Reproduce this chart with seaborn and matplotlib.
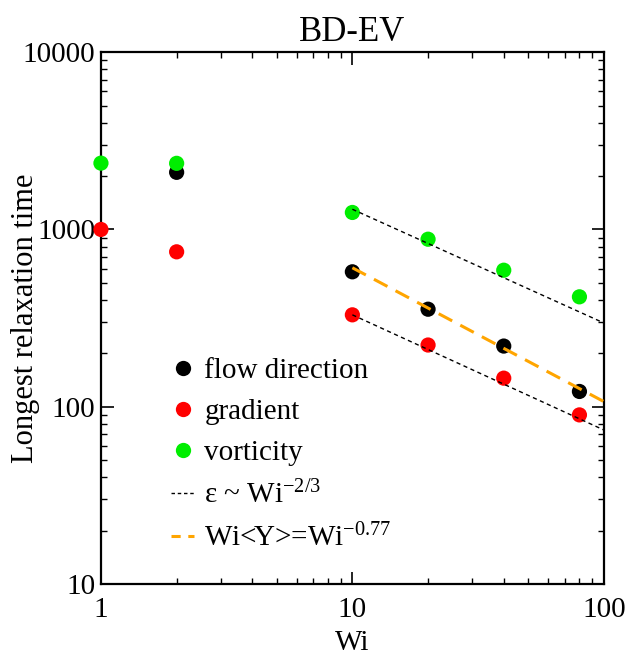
import numpy as np
import pandas as pd
import matplotlib
matplotlib.use("Agg")
import matplotlib.pyplot as plt
from matplotlib.ticker import FixedLocator, FuncFormatter, LogLocator
from matplotlib.lines import Line2D
import seaborn as sns

# ---- data ----
wi = [1, 2, 10, 20, 40, 80]
flow_direction = [np.nan, 2100, 577, 355, 220, 122]
gradient = [1000, 748, 330, 223, 145, 90]
vorticity = [2366, 2360, 1247, 881, 589, 417]

fit_x = [10, 100]
fit_upper = [1300, 297]     # eps ~ Wi^-2/3 (through vorticity)
fit_lower = [330, 74]       # eps ~ Wi^-2/3 (through gradient)
fit_orange = [608, 107]     # Wi<Y> = Wi^-0.77

series_names = ["flow direction", "gradient", "vorticity"]
series_colors = ["#000000", "#ff0000", "#00ee00"]
label_eps = r"ε ~ Wi$^{\mathregular{-2/3}}$"
label_wiy = r"Wi<Y>=Wi$^{\mathregular{-0.77}}$"

sns.set_theme(style="white")
plt.rcParams["font.family"] = ["Liberation Serif", "DejaVu Serif"]
plt.rcParams["mathtext.fontset"] = "custom"
plt.rcParams["mathtext.rm"] = "Liberation Serif"
plt.rcParams["mathtext.it"] = "Liberation Serif:italic"
for k in ["text.color", "axes.labelcolor", "xtick.color", "ytick.color", "axes.edgecolor"]:
    plt.rcParams[k] = "black"

df = pd.DataFrame({
    "Wi": wi * 3,
    "tau": flow_direction + gradient + vorticity,
    "series": [series_names[0]] * len(wi) + [series_names[1]] * len(wi) + [series_names[2]] * len(wi),
}).dropna()

fig = plt.figure(figsize=(6.27, 6.60), dpi=100)
ax = fig.add_axes([0.161, 0.115, 0.963 - 0.161, 0.921 - 0.115])
ax.set_xscale("log")
ax.set_yscale("log")

sns.scatterplot(data=df, x="Wi", y="tau", hue="series", hue_order=series_names,
                palette=series_colors, s=120, linewidth=0, legend=False,
                ax=ax, clip_on=False, zorder=3)

ax.plot(fit_x, fit_upper, color="black", lw=1.0, linestyle=(0, (3, 2.5)), zorder=4)
ax.plot(fit_x, fit_lower, color="black", lw=1.0, linestyle=(0, (3, 2.5)), zorder=4)
ax.plot(fit_x, fit_orange, color="#ffa500", lw=2.2, linestyle=(0, (5, 3)), zorder=4)

ax.set_xlim(1, 100)
ax.set_ylim(10, 10000)

fmt = FuncFormatter(lambda v, p: "%g" % v)
ax.xaxis.set_major_locator(FixedLocator([1, 10, 100]))
ax.yaxis.set_major_locator(FixedLocator([10, 100, 1000, 10000]))
ax.xaxis.set_major_formatter(fmt)
ax.yaxis.set_major_formatter(fmt)
ax.xaxis.set_minor_locator(LogLocator(base=10, subs=np.arange(2, 10)))
ax.yaxis.set_minor_locator(LogLocator(base=10, subs=np.arange(2, 10)))
ax.xaxis.set_minor_formatter(FuncFormatter(lambda v, p: ""))
ax.yaxis.set_minor_formatter(FuncFormatter(lambda v, p: ""))

ax.tick_params(which="both", direction="in", top=True, right=True,
               bottom=True, left=True, color="black")
ax.tick_params(which="major", length=9, width=1.2, labelsize=21)
ax.tick_params(axis="x", which="major", pad=9)
ax.tick_params(axis="y", which="major", pad=4)
ax.tick_params(which="minor", length=4.5, width=1.0)
for sp in ax.spines.values():
    sp.set_linewidth(1.6)
    sp.set_color("black")

ax.set_xlabel("Wi", fontsize=21, labelpad=5)
ax.set_ylabel("Longest relaxation time", fontsize=22)
ax.yaxis.set_label_coords(-0.122, 0.5)
ax.set_title("BD-EV", fontsize=25, pad=8)

handles = [Line2D([], [], marker="o", color=c, linestyle="none", markersize=11,
                  markeredgewidth=0) for c in series_colors]
handles.append(Line2D([], [], color="black", lw=1.0, linestyle=(0, (2.5, 2))))
handles.append(Line2D([], [], color="#ffa500", lw=2.2, linestyle=(0, (3, 2.5))))
labels = series_names + [label_eps, label_wiy]
ax.legend(handles, labels, loc="upper left", bbox_to_anchor=(0.139, 0.425),
          frameon=False, fontsize=21, handlelength=0.8, handletextpad=0.35,
          labelspacing=0.5, borderaxespad=0, borderpad=0)

fig.savefig("out.png", dpi=100)
